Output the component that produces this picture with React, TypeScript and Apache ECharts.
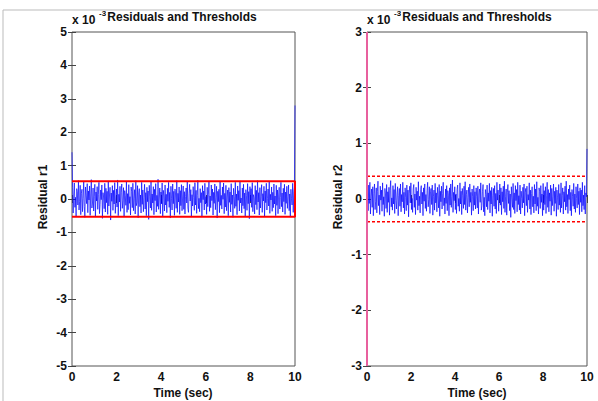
import React, { useEffect, useRef } from "react";
import * as echarts from "echarts";

// residual r1 (x 1e-3), sampled evenly over 0..10 s
const r1: number[] = [
  1.4,
  0.35,-0.42,0.12,0.48,-0.25,0.05,-0.51,0.31,0.22,-0.18,
  0.55,-0.33,-0.08,0.41,-0.47,0.17,0.29,-0.38,0.02,0.52,
  -0.22,-0.55,0.36,0.11,-0.14,0.46,-0.41,0.24,-0.03,0.39,
  -0.49,0.15,0.58,-0.27,-0.12,0.33,-0.36,0.08,0.44,-0.52,
  0.21,-0.06,0.37,-0.31,0.13,0.5,-0.44,-0.17,0.27,-0.02,
  0.42,-0.58,0.19,0.06,-0.29,0.47,-0.39,0.32,-0.11,0.23,
  -0.46,0.54,-0.21,0.09,0.35,-0.63,0.18,-0.07,0.4,-0.34,
  0.26,-0.15,0.49,-0.43,0.03,0.3,-0.24,0.57,-0.5,0.14,
  -0.09,0.38,-0.37,0.2,0.45,-0.28,-0.04,0.34,-0.53,0.25,
  0.1,-0.19,0.51,-0.4,0.16,-0.32,0.43,-0.13,0.07,-0.48,
  0.36,0.22,-0.26,0.47,-0.35,0.01,0.28,-0.45,0.55,-0.2,
  -0.1,0.4,-0.56,0.18,0.31,-0.23,0.12,-0.42,0.5,-0.16,
  0.27,-0.38,0.05,0.44,-0.3,0.19,-0.5,0.35,-0.08,0.24,
  -0.61,0.41,0.08,-0.27,0.53,-0.34,0.15,-0.12,0.37,-0.47,
  0.29,-0.05,0.46,-0.39,0.11,-0.22,0.59,-0.31,0.03,0.33,
  -0.44,0.21,-0.15,0.48,-0.52,0.26,0.09,-0.36,0.42,-0.18,
  0.14,-0.41,0.32,-0.07,0.5,-0.25,0.2,-0.57,0.38,0.02,
  -0.33,0.45,-0.14,0.23,-0.49,0.3,0.12,-0.28,0.55,-0.4,
  0.17,-0.09,0.36,-0.46,0.25,-0.2,0.43,-0.35,0.06,0.39,
  -0.31,0.22,-0.45,0.08,0.33,-0.12,0.51,-0.27,-0.4,0.16,
  0.44,-0.06,0.28,-0.52,0.13,-0.21,0.37,0.05,-0.34,0.49,
  -0.18,0.26,-0.43,0.1,0.56,-0.29,0.02,-0.38,0.31,-0.11,
  0.19,-0.54,0.4,-0.02,0.24,-0.33,0.47,-0.15,0.07,-0.46,
  0.35,-0.23,0.14,0.52,-0.37,0.09,-0.26,0.42,-0.05,0.3,
  -0.48,0.2,-0.13,0.45,-0.32,0.04,0.38,-0.57,0.23,-0.08,
  0.29,-0.41,0.53,-0.19,0.11,-0.3,0.36,-0.01,0.48,-0.44,
  0.17,-0.24,0.41,-0.35,0.06,0.27,-0.5,0.34,-0.1,0.21,
  -0.39,0.46,-0.16,0.12,-0.55,0.32,0.08,-0.28,0.5,-0.22,
  0.15,-0.47,0.39,-0.04,0.25,-0.36,0.54,-0.12,0.03,-0.42,
  0.33,-0.2,0.44,-0.29,0.18,-0.51,0.28,0.1,-0.34,0.46,
  -0.14,0.22,-0.59,0.37,-0.07,0.31,-0.25,0.49,-0.38,0.13,
  0.04,-0.45,0.4,-0.17,0.26,-0.32,0.55,-0.09,0.19,-0.48,
  0.34,-0.27,0.08,0.43,-0.4,0.16,-0.06,0.38,-0.53,0.24,
  -0.11,0.47,-0.33,0.02,0.3,-0.21,0.52,-0.43,0.14,-0.03,
  0.36,-0.37,0.2,-0.26,0.45,-0.15,0.09,-0.5,0.41,-0.19,
  0.27,-0.44,0.12,0.35,-0.3,0.05,0.5,-0.23,0.18,-0.39,
  0.32,-0.08,0.44,-0.46,0.21,-0.13,0.38,-0.28,0.07,0.42,
  -0.35,0.15,-0.52,0.29,0.01,-0.18,0.47,-0.4,0.23,0.36,
  2.8,
];

// residual r2 (x 1e-3)
const r2: number[] = [
  0.1,
  0.12,-0.21,0.25,-0.08,0.3,-0.27,0.05,0.18,-0.15,0.22,
  -0.3,0.1,0.27,-0.19,-0.04,0.2,-0.25,0.14,0.32,-0.12,
  0.07,-0.28,0.23,-0.02,0.16,-0.22,0.29,-0.1,0.04,-0.31,
  0.19,0.09,-0.17,0.26,-0.24,0.13,-0.06,0.21,-0.29,0.15,
  0.33,-0.14,0.02,-0.2,0.24,-0.09,0.17,-0.26,0.28,-0.03,
  -0.18,0.11,0.22,-0.3,0.06,0.19,-0.13,0.27,-0.23,0.08,
  -0.05,0.3,-0.16,0.12,-0.27,0.2,0.03,-0.21,0.25,-0.11,
  0.16,-0.32,0.1,0.23,-0.07,0.29,-0.19,0.01,-0.24,0.18,
  0.26,-0.15,0.09,-0.28,0.21,-0.02,0.14,-0.2,0.31,-0.12,
  0.05,-0.25,0.17,0.24,-0.09,0.12,-0.3,0.2,-0.04,0.27,
  -0.17,0.08,-0.22,0.15,0.3,-0.14,-0.01,0.22,-0.26,0.13,
  0.19,-0.1,0.25,-0.29,0.04,0.16,-0.2,0.28,-0.07,0.11,
  -0.23,0.21,0.06,-0.16,0.26,-0.31,0.14,-0.05,0.23,-0.18,
  0.1,0.3,-0.12,0.02,-0.27,0.18,-0.08,0.24,-0.21,0.15,
  0.07,-0.3,0.2,-0.11,0.27,-0.15,0.05,0.34,-0.24,0.12,
  -0.03,0.22,-0.19,0.09,-0.26,0.17,0.25,-0.13,0.01,-0.22,
  0.29,-0.09,0.14,-0.28,0.19,0.06,-0.17,0.23,-0.1,0.31,
  -0.2,0.08,0.16,-0.25,0.03,0.21,-0.14,0.27,-0.06,0.12,
  -0.29,0.18,0.04,-0.21,0.24,-0.11,0.13,-0.18,0.2,0.05,
  -0.16,0.23,-0.27,0.09,0.18,-0.06,0.29,-0.2,-0.12,0.14,
  0.26,-0.23,0.03,-0.3,0.17,0.08,-0.14,0.25,-0.19,0.11,
  -0.04,0.28,-0.25,0.15,-0.09,0.21,-0.31,0.06,0.19,-0.13,
  0.24,-0.18,0.1,-0.26,0.3,-0.02,0.16,-0.22,0.07,0.27,
  -0.11,0.2,-0.28,0.13,-0.05,0.23,-0.17,0.32,-0.24,0.04,
  0.18,-0.29,0.12,0.26,-0.08,0.15,-0.21,0.09,-0.33,0.22,
  0.02,-0.15,0.28,-0.19,0.11,-0.26,0.24,-0.03,0.17,-0.23,
  0.3,-0.1,0.06,-0.2,0.25,-0.27,0.14,0.01,-0.16,0.21,
  -0.07,0.27,-0.3,0.12,0.19,-0.12,0.23,-0.24,0.08,-0.02,
  0.29,-0.18,0.16,-0.28,0.1,0.22,-0.14,0.05,-0.25,0.26,
  -0.09,0.18,-0.21,0.31,-0.13,0.03,-0.27,0.2,0.13,-0.17,
  0.24,-0.06,0.09,-0.3,0.28,-0.2,0.15,-0.1,0.22,-0.26,
  0.07,0.3,-0.15,0.17,-0.23,0.11,-0.04,0.25,-0.29,0.19,
  -0.12,0.04,0.27,-0.22,0.14,-0.08,0.21,-0.31,0.16,0.02,
  -0.19,0.26,-0.11,0.1,-0.24,0.29,-0.16,0.06,0.2,-0.27,
  0.13,-0.05,0.23,-0.2,0.32,-0.14,0.08,-0.26,0.18,-0.01,
  0.25,-0.21,0.12,-0.3,0.17,0.05,-0.13,0.28,-0.18,0.09,
  -0.24,0.22,0.01,-0.16,0.27,-0.1,0.14,-0.28,0.2,-0.06,
  0.16,-0.23,0.3,-0.12,0.07,-0.19,0.24,-0.27,0.11,0.04,
  0.9,
];

const threshold1 = 0.53;
const threshold2 = 0.41;
const tStart = 0;
const tEnd = 10;
const r2Transient: number[] = [-3, 3];

const xTicks = [0, 2, 4, 6, 8, 10];
const y1Range = [-5, 5];
const y2Range = [-3, 3];

const titles = ["Residuals and Thresholds", "Residuals and Thresholds"];
const yNames = ["Residual r1", "Residual r2"];
const xName = "Time (sec)";

const FONT = "'Liberation Sans', Arial, sans-serif";

function toXY(vals: number[]): number[][] {
  const n = vals.length;
  return vals.map((v, i) => [tStart + ((tEnd - tStart) * i) / (n - 1), v]);
}

export default function App() {
  const ref = useRef<HTMLDivElement>(null);
  useEffect(() => {
    if (!ref.current) return;
    const chart = echarts.init(ref.current, undefined, { renderer: "svg" });
    const grids = [
      { left: 72, top: 32, width: 223, height: 334 },
      { left: 367, top: 32, width: 220, height: 334 },
    ];
    const label = { color: "#111", fontFamily: FONT, fontWeight: "bold" as const, fontSize: 12 };
    const tick = { show: true, inside: true, length: 4, lineStyle: { color: "#444" } };
    const xAxes: any[] = [];
    const yAxes: any[] = [];
    [0, 1].forEach((g) => {
      const yr = g === 0 ? y1Range : y2Range;
      xAxes.push({
        type: "value", gridIndex: g, position: "bottom", min: xTicks[0], max: xTicks[xTicks.length - 1],
        interval: xTicks[1] - xTicks[0], axisLine: { show: false }, splitLine: { show: false },
        axisTick: tick, axisLabel: { ...label, margin: 5 },
      });
      xAxes.push({
        type: "value", gridIndex: g, position: "top", min: xTicks[0], max: xTicks[xTicks.length - 1],
        interval: xTicks[1] - xTicks[0], axisLine: { show: false }, splitLine: { show: false },
        axisTick: tick, axisLabel: { show: false },
      });
      yAxes.push({
        type: "value", gridIndex: g, position: "left", min: yr[0], max: yr[1], interval: 1,
        axisLine: { show: false }, splitLine: { show: false }, axisTick: tick,
        axisLabel: { ...label, margin: 5 },
      });
      yAxes.push({
        type: "value", gridIndex: g, position: "right", min: yr[0], max: yr[1], interval: 1,
        axisLine: { show: false }, splitLine: { show: false }, axisTick: tick,
        axisLabel: { show: false },
      });
    });
    const box = (t: number) => [[tStart, t], [tEnd, t], [tEnd, -t], [tStart, -t]];
    const option: any = {
      animation: false,
      backgroundColor: "#fff",
      grid: grids.map((g) => ({ ...g, show: true, borderColor: "#555", borderWidth: 1, backgroundColor: "transparent" })),
      xAxis: xAxes,
      yAxis: yAxes,
      series: [
        {
          type: "line", xAxisIndex: 0, yAxisIndex: 0, data: toXY(r1), showSymbol: false,
          lineStyle: { color: "#0000ff", width: 0.9, opacity: 0.75 }, z: 3,
        },
        {
          type: "line", xAxisIndex: 0, yAxisIndex: 0, data: box(threshold1), showSymbol: false,
          lineStyle: { color: "#ff0000", width: 2 }, z: 4,
        },
        {
          type: "line", xAxisIndex: 2, yAxisIndex: 2, data: toXY(r2), showSymbol: false,
          lineStyle: { color: "#0000ff", width: 0.9, opacity: 0.75 }, z: 3,
        },
        {
          type: "line", xAxisIndex: 2, yAxisIndex: 2, data: [[tStart, threshold2], [tEnd, threshold2]], showSymbol: false,
          lineStyle: { color: "#ff0000", width: 1.5, type: [3, 2] }, z: 4,
        },
        {
          type: "line", xAxisIndex: 2, yAxisIndex: 2, data: [[tStart, -threshold2], [tEnd, -threshold2]], showSymbol: false,
          lineStyle: { color: "#ff0000", width: 1.5, type: [3, 2] }, z: 4,
        },
        {
          type: "line", xAxisIndex: 2, yAxisIndex: 2, data: r2Transient.map((v) => [tStart, v]), showSymbol: false,
          clip: false, lineStyle: { color: "#e8609e", width: 2 }, z: 5,
        },
      ],
      graphic: [
        { type: "line", shape: { x1: 3, y1: 10, x2: 598, y2: 10 }, style: { stroke: "#bbb", lineWidth: 1 } },
        { type: "line", shape: { x1: 3, y1: 10, x2: 3, y2: 401 }, style: { stroke: "#bbb", lineWidth: 1 } },
        // exponent labels
        { type: "text", x: 72, y: 14, style: { text: "x 10", font: `bold 12px ${FONT}`, fill: "#111" } },
        { type: "text", x: 99, y: 9, style: { text: "-3", font: `bold 8px ${FONT}`, fill: "#111" } },
        { type: "text", x: 367, y: 14, style: { text: "x 10", font: `bold 12px ${FONT}`, fill: "#111" } },
        { type: "text", x: 394, y: 9, style: { text: "-3", font: `bold 8px ${FONT}`, fill: "#111" } },
        // titles
        { type: "text", x: 182, y: 17, style: { text: titles[0], font: `bold 12px ${FONT}`, fill: "#111", align: "center", verticalAlign: "middle", backgroundColor: "#fff", padding: [0, 1] } },
        { type: "text", x: 477, y: 17, style: { text: titles[1], font: `bold 12px ${FONT}`, fill: "#111", align: "center", verticalAlign: "middle", backgroundColor: "#fff", padding: [0, 1] } },
        // axis names
        { type: "text", x: 43, y: 197, rotation: Math.PI / 2, style: { text: yNames[0], font: `bold 12px ${FONT}`, fill: "#111", align: "center", verticalAlign: "middle" } },
        { type: "text", x: 338, y: 197, rotation: Math.PI / 2, style: { text: yNames[1], font: `bold 12px ${FONT}`, fill: "#111", align: "center", verticalAlign: "middle" } },
        { type: "text", x: 183, y: 393, style: { text: xName, font: `bold 12px ${FONT}`, fill: "#111", align: "center", verticalAlign: "middle" } },
        { type: "text", x: 477, y: 393, style: { text: xName, font: `bold 12px ${FONT}`, fill: "#111", align: "center", verticalAlign: "middle" } },
      ],
    };
    chart.setOption(option);
    return () => chart.dispose();
  }, []);
  return (
    <div style={{ position: "absolute", left: 0, top: 0, width: 598, height: 401, background: "#fff" }}>
      <div ref={ref} style={{ width: 598, height: 401 }} />
    </div>
  );
}
